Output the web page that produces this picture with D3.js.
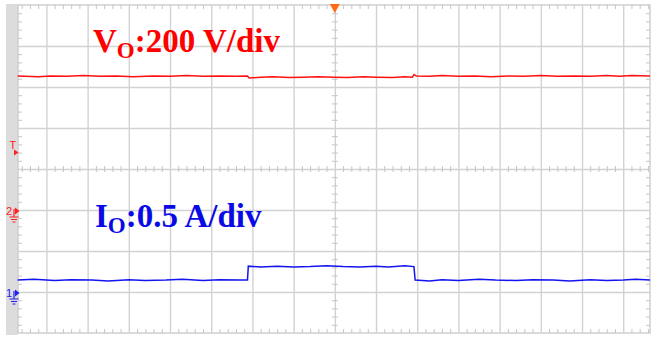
<!DOCTYPE html>
<html>
<head>
<meta charset="utf-8">
<script src="https://cdn.jsdelivr.net/npm/d3@7"></script>
<style>
  body { margin: 0; background: #fff; }
  .grid line { stroke: #d2d2d2; stroke-width: 1.4px; }
  .grid path { display: none; }
  .minor line { stroke: #c6c6c6; stroke-width: 1px; }
  .minor path { display: none; }
</style>
</head>
<body>
<div class="chart"></div>
<script>
// time in divisions (0 = trigger), value in divisions (0 = screen centre)
const tVo = [-7.7, -7.2, -6.9, -6.5, -6.1, -5.7, -5.3, -4.9, -4.4, -4.0, -3.6, -3.2, -2.8, -2.4, -2.12, -2.08, -1.8, -1.5, -1.1, -0.8, -0.4, 0, 0.3, 0.7, 1.0, 1.4, 1.7, 1.88, 1.92, 1.98, 2.3, 2.6, 3.0, 3.4, 3.8, 4.2, 4.6, 5.0, 5.4, 5.8, 6.2, 6.6, 6.9, 7.2, 7.65];
const vo  = [2.27, 2.25, 2.27, 2.26, 2.28, 2.26, 2.27, 2.25, 2.27, 2.26, 2.28, 2.26, 2.27, 2.26, 2.27, 2.22, 2.24, 2.25, 2.23, 2.24, 2.25, 2.24, 2.23, 2.25, 2.24, 2.23, 2.25, 2.24, 2.30, 2.27, 2.26, 2.28, 2.26, 2.27, 2.25, 2.27, 2.26, 2.28, 2.26, 2.27, 2.26, 2.28, 2.26, 2.28, 2.27];

const tIo = [-7.7, -7.3, -6.8, -6.4, -5.9, -5.5, -5.0, -4.6, -4.1, -3.7, -3.2, -2.8, -2.3, -2.12, -2.1, -1.8, -1.4, -1.0, -0.6, -0.2, 0.2, 0.6, 1.0, 1.3, 1.7, 1.92, 1.95, 2.3, 2.6, 3.0, 3.5, 3.9, 4.4, 4.8, 5.3, 5.7, 6.2, 6.6, 7.0, 7.3, 7.65];
const io  = [-2.71, -2.69, -2.72, -2.70, -2.71, -2.73, -2.70, -2.72, -2.71, -2.69, -2.72, -2.70, -2.71, -2.71, -2.37, -2.39, -2.37, -2.39, -2.38, -2.36, -2.38, -2.39, -2.37, -2.39, -2.36, -2.38, -2.71, -2.73, -2.70, -2.72, -2.69, -2.71, -2.72, -2.70, -2.71, -2.73, -2.70, -2.72, -2.71, -2.69, -2.71];

const xMajor = d3.range(-7, 8);
const yMajor = d3.range(-3, 4);

const W = 651, H = 341;
const svg = d3.select(".chart").append("svg")
  .attr("width", W).attr("height", H)
  .style("display", "block");

svg.append("rect").attr("width", W).attr("height", H).attr("fill", "#fff");

const x = d3.scaleLinear().domain([-7.69, 7.65]).range([18, 650]);
const y = d3.scaleLinear().domain([-4, 4]).range([333, 5]);

// grey bar on the left
svg.append("rect")
  .attr("x", 6).attr("y", 4)
  .attr("width", 12).attr("height", 331)
  .attr("fill", "#dcdcdc");

// frame
svg.append("rect")
  .attr("x", x(-7.69)).attr("y", y(4))
  .attr("width", x(7.65) - x(-7.69)).attr("height", y(-4) - y(4))
  .attr("fill", "none").attr("stroke", "#d0d0d0").attr("stroke-width", 1.5);

// major grid
svg.append("g").attr("class", "grid")
  .attr("transform", `translate(0,${y(-4)})`)
  .call(d3.axisBottom(x).tickValues(xMajor).tickSize(-(y(-4) - y(4))).tickFormat(""));
svg.append("g").attr("class", "grid")
  .attr("transform", `translate(${x(-7.69)},0)`)
  .call(d3.axisLeft(y).tickValues(yMajor).tickSize(-(x(7.65) - x(-7.69))).tickFormat(""));

// minor ticks
const xMinor = d3.range(-38, 39).map(d => d / 5).filter(d => d > -7.69 && d < 7.65 && !Number.isInteger(d));
const yMinor = d3.range(-19, 20).map(d => d / 5).filter(d => !Number.isInteger(d));

svg.append("g").attr("class", "minor")
  .attr("transform", `translate(0,${y(4)})`)
  .call(d3.axisBottom(x).tickValues(xMinor).tickSize(4).tickFormat(""));
svg.append("g").attr("class", "minor")
  .attr("transform", `translate(0,${y(-4)})`)
  .call(d3.axisTop(x).tickValues(xMinor).tickSize(4).tickFormat(""));
svg.append("g").attr("class", "minor")
  .attr("transform", `translate(${x(-7.69)},0)`)
  .call(d3.axisRight(y).tickValues(yMinor).tickSize(4).tickFormat(""));
svg.append("g").attr("class", "minor")
  .attr("transform", `translate(${x(7.65)},0)`)
  .call(d3.axisLeft(y).tickValues(yMinor).tickSize(4).tickFormat(""));
// centre cross ticks
svg.append("g").attr("class", "minor")
  .attr("transform", `translate(0,${y(0) - 3})`)
  .call(d3.axisBottom(x).tickValues(xMinor).tickSize(6).tickFormat(""));
svg.append("g").attr("class", "minor")
  .attr("transform", `translate(${x(0) - 3},0)`)
  .call(d3.axisRight(y).tickValues(yMinor).tickSize(6).tickFormat(""));

// traces
const line = d3.line().x(d => x(d[0])).y(d => y(d[1]));
svg.append("path")
  .datum(d3.zip(tVo, vo))
  .attr("d", line)
  .attr("fill", "none").attr("stroke", "#ff1010").attr("stroke-width", 1.5);
svg.append("path")
  .datum(d3.zip(tIo, io))
  .attr("d", line)
  .attr("fill", "none").attr("stroke", "#1414f0").attr("stroke-width", 1.5);

// trigger marker at top
svg.append("path")
  .attr("d", `M${x(0) - 5},${y(4) - 1} L${x(0) + 5},${y(4) - 1} L${x(0)},${y(4) + 8} Z`)
  .attr("fill", "#ff6a13");

// left side markers
function groundMarker(label, yv, color) {
  const g = svg.append("g").attr("fill", color).attr("stroke", color);
  const yy = y(yv);
  g.append("text").attr("x", 6).attr("y", yy + 4)
    .attr("font-family", "Liberation Sans, Arial").attr("font-size", 11)
    .attr("stroke", "none").text(label);
  g.append("path").attr("d", `M15,${yy - 3.5} L19.5,${yy} L15,${yy + 3.5} Z`).attr("stroke", "none");
  g.append("path").attr("d", `M14,${yy - 2} L14,${yy + 6} M9.5,${yy + 6} L18.5,${yy + 6} M11,${yy + 8.5} L17,${yy + 8.5} M12.5,${yy + 11} L15.5,${yy + 11}`)
    .attr("fill", "none").attr("stroke-width", 1.2);
}
groundMarker("2", y.invert(211), "#ff2020");
groundMarker("1", y.invert(293), "#2020f0");

// trigger level marker "T"
svg.append("text").attr("x", 9.5).attr("y", 149)
  .attr("font-family", "Liberation Sans, Arial").attr("font-size", 11)
  .attr("fill", "#ff2020").text("T");
svg.append("path").attr("d", "M14,149.5 L18.5,152.5 L14,155.5 Z").attr("fill", "#ff2020");

// channel labels
const lbl = svg.append("text")
  .attr("x", 93).attr("y", 52)
  .attr("font-family", "Liberation Serif, Times New Roman, serif")
  .attr("font-weight", "bold").attr("font-size", 33)
  .attr("fill", "#ff0000");
lbl.append("tspan").text("V");
lbl.append("tspan").attr("font-size", 23).attr("dy", 6).text("O");
lbl.append("tspan").attr("dy", -6).text(":200 V/div");

const lbl2 = svg.append("text")
  .attr("x", 95).attr("y", 227)
  .attr("font-family", "Liberation Serif, Times New Roman, serif")
  .attr("font-weight", "bold").attr("font-size", 33)
  .attr("fill", "#0a0ae6");
lbl2.append("tspan").text("I");
lbl2.append("tspan").attr("font-size", 23).attr("dy", 6).text("O");
lbl2.append("tspan").attr("dy", -6).text(":0.5 A/div");
</script>
</body>
</html>
